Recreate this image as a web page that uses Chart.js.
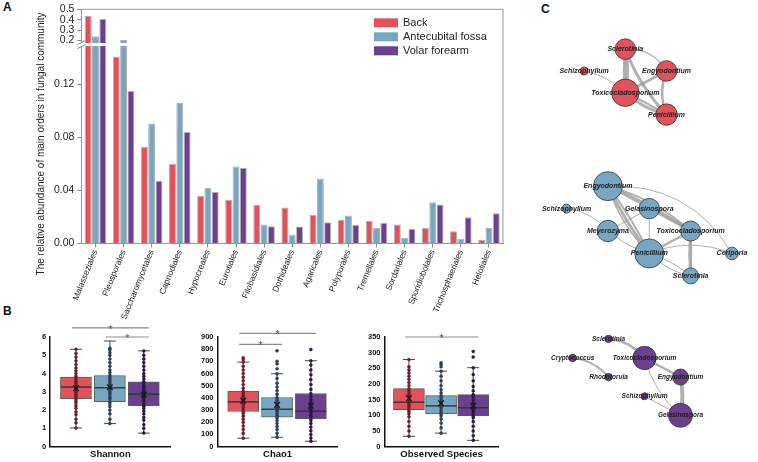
<!DOCTYPE html>
<html>
<head>
<meta charset="utf-8">
<script src="https://cdn.jsdelivr.net/npm/chart.js@4.4.1/dist/chart.umd.min.js"></script>
<style>
body{margin:0;background:#fff;width:758px;height:462px;overflow:hidden;position:relative;font-family:"Liberation Sans",Arial,sans-serif}
canvas{position:absolute}
.tag{position:absolute;font-weight:bold;font-size:12px;color:#111}
</style>
</head>
<body>
<div class="tag" style="left:3px;top:0px">A</div>
<div class="tag" style="left:3px;top:304px">B</div>
<div class="tag" style="left:541px;top:2px">C</div>
<canvas id="barChart" width="510" height="322" style="left:0;top:0"></canvas>
<canvas id="shannonChart" width="143" height="146" style="left:33px;top:316px"></canvas>
<canvas id="chaoChart" width="151" height="146" style="left:192px;top:316px"></canvas>
<canvas id="obsChart" width="146" height="146" style="left:358px;top:316px"></canvas>
<canvas id="net1" width="253" height="150" style="left:505px;top:0"></canvas>
<canvas id="net2" width="253" height="160" style="left:505px;top:150px"></canvas>
<canvas id="net3" width="253" height="152" style="left:505px;top:310px"></canvas>
<script>
/* panel A: main orders */
var orders = ['Malasseziales','Pleosporales','Saccharomycetales','Capnodiales','Hypocreales','Eurotiales','Filobasidiales','Dothideales','Agaricales','Polyporales','Tremellales','Sordariales','Sporidiobolales','Trichosphaeriales','Helotiales'];
var back        = [0.435,0.141,0.073,0.060,0.036,0.033,0.029,0.027,0.0215,0.0178,0.017,0.0143,0.0116,0.0091,0.0025];
var antecubital = [0.240,0.205,0.0905,0.106,0.042,0.058,0.0143,0.0067,0.049,0.021,0.0116,0.0042,0.031,0.0035,0.0116];
var volar       = [0.410,0.115,0.047,0.084,0.0387,0.057,0.013,0.0128,0.016,0.0138,0.0156,0.0111,0.0294,0.0198,0.0227];
var lowerTicks = [0, 0.04, 0.08, 0.12];
var upperTicks = [0.2, 0.3, 0.4, 0.5];
var breakLow = 0.15;
var breakHigh = 0.16;

var sites = ['Back', 'Antecubital fossa', 'Volar forearm'];
var siteColors = ['#e0535d', '#78a6c2', '#6b408e'];
var dotColors = ['#6e1d28', '#2b3f52', '#2c1544'];

/* panel B: diversity boxes (Back, Antecubital fossa, Volar forearm) */
var shannonQ1 = [2.63, 2.46, 2.24];
var shannonMedian = [3.26, 3.22, 2.87];
var shannonQ3 = [3.80, 3.89, 3.54];
var shannonLow = [1.02, 1.26, 0.74];
var shannonHigh = [5.33, 5.78, 5.24];
var shannonMean = [3.20, 3.25, 2.85];
var shannonBack = [1.02,1.3,1.5,1.75,1.9,2.1,2.25,2.4,2.5,2.6,2.7,2.8,2.9,3.0,3.05,3.1,3.2,3.25,3.3,3.4,3.5,3.55,3.65,3.75,3.85,4.0,4.15,4.3,4.5,4.7,4.9,5.1,5.33];
var shannonAnte = [1.26,1.5,1.8,2.0,2.2,2.35,2.45,2.6,2.7,2.85,2.95,3.05,3.15,3.22,3.3,3.4,3.5,3.6,3.7,3.8,3.9,4.05,4.2,4.4,4.6,4.8,5.0,5.15,5.3,5.39];
var shannonVolar = [0.74,1.0,1.2,1.45,1.6,1.8,1.95,2.1,2.2,2.3,2.4,2.5,2.6,2.7,2.8,2.87,2.95,3.05,3.15,3.25,3.35,3.45,3.55,3.7,3.85,4.0,4.2,4.4,4.6,4.8,5.0,5.24];

var chaoQ1 = [288, 242, 230];
var chaoMedian = [367, 307, 291];
var chaoQ3 = [455, 403, 436];
var chaoLow = [69, 77, 44];
var chaoHigh = [694, 598, 705];
var chaoMean = [377, 343, 335];
var chaoBack = [69,110,140,170,200,225,250,270,285,300,320,340,355,367,380,395,410,425,440,455,480,510,540,570,600,630,660,694,715,730];
var chaoAnte = [77,110,140,165,190,215,235,250,265,280,295,307,320,335,350,365,380,403,430,460,490,520,560,598,640,680,700,787];
var chaoVolar = [44,70,100,130,160,190,215,230,250,265,280,291,305,320,340,360,385,410,436,470,510,550,590,630,670,705,798];

var obsQ1 = [118, 104, 98];
var obsMedian = [142, 130, 124];
var obsQ3 = [185, 163, 166];
var obsLow = [33, 43, 20];
var obsHigh = [278, 241, 252];
var obsMean = [155, 138, 130];
var obsBack = [33,50,65,80,95,105,112,118,125,132,138,142,148,155,162,170,178,185,195,205,215,225,235,245,255,278];
var obsAnte = [43,60,75,88,98,104,110,118,125,130,136,142,150,157,163,172,182,195,210,225,241,255,262,268];
var obsVolar = [20,35,50,65,80,92,98,105,112,118,124,132,140,150,160,166,178,192,210,230,252,286,304];

/* significance: [group a, group b, bracket height in axis units] */
var shannonSig = [[0, 2, 6.5], [1, 2, 6.0]];
var chaoSig = [[0, 2, 930], [0, 1, 840]];
var obsSig = [[0, 2, 350]];

/* panel C: co-occurrence networks, nodes on layout grid */
var net1Names = ['Sclerotinia','Schizophyllum','Engyodontium','Toxicocladosporium','Penicillium'];
var net1X = [1, 0, 2, 1, 2];
var net1Y = [0, 1, 1, 2, 3];
var net1Size = [10.3, 4, 10.3, 13.7, 10.7];
var net1Edges = [[0,3,4,-0.08],[0,3,2.5,0.06],[0,2,1.2,-0.3],[1,3,1,-0.15],[3,2,3,0],[3,4,3,0.12],[3,4,2,-0.03],[0,4,3,0.1],[2,4,2.5,0.2]];

var net2Names = ['Engyodontium','Schizophyllum','Gelasinospora','Meyerozyma','Toxicocladosporium','Penicillium','Ceriporia','Sclerotinia'];
var net2X = [1, 0, 2, 1, 3, 2, 4, 3];
var net2Y = [0, 1, 1, 2, 2, 3, 3, 4];
var net2Size = [14.5, 4.5, 10.2, 10.7, 10, 14.5, 6.3, 8];
var net2Edges = [[0,4,3,-0.05],[0,4,2,-0.12],[0,5,3,0.05],[0,5,2,-0.05],[0,5,1.5,0.12],[0,2,1.5,0],[0,6,1,-0.3],[1,3,1,-0.2],[3,2,1,0],[3,5,1,0.1],[2,5,1,0],[2,4,2,0],[4,5,2.5,0],[4,7,3,0.04],[4,7,1.5,-0.04],[5,6,1,-0.2],[5,7,1,0.15],[5,7,1,-0.1]];

var net3Names = ['Sclerotinia','Cryptococcus','Toxicocladosporium','Rhodotorula','Engyodontium','Schizophyllum','Gelasinospora'];
var net3X = [1, 0, 2, 1, 3, 2, 3];
var net3Y = [0, 1, 1, 2, 2, 3, 4];
var net3Size = [3.7, 3.7, 11.7, 3.7, 8, 3.5, 12];
var net3Edges = [[0,2,2.5,-0.2],[1,3,2,-0.2],[2,4,2.5,0],[4,6,4,-0.1],[2,6,1,0.15],[5,6,1,0]];

Chart.defaults.font.family = '"Liberation Sans", Arial, sans-serif';
Chart.defaults.color = '#222';
Chart.defaults.animation = false;
Chart.defaults.responsive = false;
Chart.defaults.plugins.legend.display = false;
Chart.defaults.plugins.tooltip.enabled = false;

// ---------- A: bar chart with broken axis ----------
var barSets = [];
[back, antecubital, volar].forEach(function(vals, i) {
    barSets.push({
        label: sites[i],
        data: vals.map(function(v) { return Math.min(v, breakLow); }),
        yAxisID: 'y', stack: 'site' + i,
        backgroundColor: siteColors[i], borderColor: 'rgba(80,80,80,0.45)', borderWidth: 1
    });
    barSets.push({
        label: sites[i],
        data: vals.map(function(v) { return v > breakHigh ? [breakHigh, v] : null; }),
        yAxisID: 'y2', stack: 'site' + i,
        backgroundColor: siteColors[i], borderColor: 'rgba(80,80,80,0.45)', borderWidth: 1
    });
});

var frameAndLegend = {
    id: 'frameAndLegend',
    afterDraw: function(chart) {
        var ctx = chart.ctx, a = chart.chartArea;
        ctx.save();
        ctx.strokeStyle = '#999';
        ctx.lineWidth = 1;
        ctx.strokeRect(a.left, a.top, a.right - a.left, a.bottom - a.top);
        // axis break
        var yb = chart.scales.y.top;
        ctx.fillStyle = '#fff';
        ctx.fillRect(a.left - 5, yb - 1.5, a.right - a.left + 4, 3);
        ctx.strokeStyle = '#888';
        [-2, 2].forEach(function(d) {
            ctx.beginPath();
            ctx.moveTo(a.left - 4, yb + d + 2);
            ctx.lineTo(a.left + 4, yb + d - 2);
            ctx.stroke();
        });
        // legend
        ctx.font = '11px "Liberation Sans", Arial, sans-serif';
        ctx.textBaseline = 'middle';
        sites.forEach(function(s, i) {
            var x = a.right - 129, y = a.top + 9 + i * 14;
            ctx.fillStyle = siteColors[i];
            ctx.fillRect(x, y, 24, 9);
            ctx.fillStyle = '#222';
            ctx.fillText(s, x + 29, y + 5);
        });
        ctx.restore();
    }
};

new Chart(document.getElementById('barChart'), {
    type: 'bar',
    data: { labels: orders, datasets: barSets },
    options: {
        layout: { padding: { left: 35, right: 7, top: 0, bottom: 0 } },
        datasets: { bar: { categoryPercentage: 0.78, barPercentage: 0.95 } },
        scales: {
            x: {
                grid: { drawOnChartArea: false, offset: false, tickLength: 4, color: '#888' },
                border: { color: '#888' },
                ticks: { autoSkip: false, minRotation: 68, maxRotation: 68, font: { size: 8.5 }, color: '#222', padding: 1 }
            },
            y: {
                stack: 'abund', stackWeight: 203, stacked: false,
                min: 0, max: breakLow,
                afterBuildTicks: function(s) { s.ticks = lowerTicks.map(function(v) { return { value: v }; }); },
                ticks: { autoSkip: false, callback: function(v) { return v.toFixed(2); }, font: { size: 10.5 }, color: '#222', padding: 3 },
                grid: { drawOnChartArea: false, tickLength: 4, color: '#888' },
                border: { color: '#888' },
                title: { display: true, text: 'The relative abundance of main orders in fungal community', font: { size: 10 }, color: '#222', padding: { top: 0, bottom: 4 } }
            },
            y2: {
                stack: 'abund', stackWeight: 36, stacked: false,
                min: breakHigh, max: 0.5,
                afterBuildTicks: function(s) { s.ticks = upperTicks.map(function(v) { return { value: v }; }); },
                ticks: { autoSkip: false, callback: function(v) { return v.toFixed(1); }, font: { size: 10.5, lineHeight: 0.9 }, color: '#222', padding: 3 },
                grid: { drawOnChartArea: false, tickLength: 4, color: '#888' },
                border: { color: '#888' }
            }
        }
    },
    plugins: [frameAndLegend]
});

// ---------- B: box plots ----------
function boxParts(lo, hi, med, sigs) {
    return {
        id: 'boxParts',
        beforeDatasetsDraw: function(chart) {
            var ctx = chart.ctx, y = chart.scales.y, bars = chart.getDatasetMeta(0).data;
            ctx.save();
            ctx.strokeStyle = '#444';
            ctx.lineWidth = 1;
            bars.forEach(function(b, i) {
                ctx.beginPath();
                ctx.moveTo(b.x, y.getPixelForValue(lo[i]));
                ctx.lineTo(b.x, y.getPixelForValue(hi[i]));
                [lo[i], hi[i]].forEach(function(v) {
                    var p = y.getPixelForValue(v);
                    ctx.moveTo(b.x - 6, p);
                    ctx.lineTo(b.x + 6, p);
                });
                ctx.stroke();
            });
            ctx.restore();
        },
        afterDatasetDraw: function(chart, args) {
            if (args.index !== 0) return;
            var ctx = chart.ctx, y = chart.scales.y, bars = chart.getDatasetMeta(0).data;
            ctx.save();
            ctx.strokeStyle = '#333';
            ctx.lineWidth = 1.4;
            bars.forEach(function(b, i) {
                var p = y.getPixelForValue(med[i]);
                ctx.beginPath();
                ctx.moveTo(b.x - b.width / 2, p);
                ctx.lineTo(b.x + b.width / 2, p);
                ctx.stroke();
            });
            ctx.restore();
        },
        afterDraw: function(chart) {
            var ctx = chart.ctx, y = chart.scales.y, bars = chart.getDatasetMeta(0).data;
            ctx.save();
            ctx.strokeStyle = '#8a8a8a';
            ctx.fillStyle = '#555';
            ctx.lineWidth = 1.2;
            ctx.font = '11px "Liberation Sans", Arial, sans-serif';
            ctx.textAlign = 'center';
            ctx.textBaseline = 'alphabetic';
            sigs.forEach(function(s) {
                var x0 = bars[s[0]].x - 4, x1 = bars[s[1]].x + 5, p = y.getPixelForValue(s[2]);
                ctx.beginPath();
                ctx.moveTo(x0, p);
                ctx.lineTo(x1, p);
                ctx.stroke();
                ctx.fillText('*', (x0 + x1) / 2, p + 5);
            });
            ctx.restore();
        }
    };
}

function boxChart(id, title, q1, med, q3, lo, hi, mean, dots, yMax, yStep, sigs, padLeft) {
    var xs = [1, 2, 3];
    var sets = [{
        type: 'bar',
        data: xs.map(function(x, i) { return { x: x, y: [q1[i], q3[i]] }; }),
        backgroundColor: siteColors, borderColor: '#5a5a5a', borderWidth: 1, borderSkipped: false,
        barThickness: 31, order: 3
    }];
    dots.forEach(function(vals, i) {
        sets.push({
            type: 'scatter',
            data: vals.map(function(v) { return { x: xs[i], y: v }; }),
            pointRadius: 1.5, pointBackgroundColor: dotColors[i], pointBorderColor: dotColors[i], pointBorderWidth: 0.5, order: 2
        });
    });
    sets.push({
        type: 'scatter',
        data: mean.map(function(m, i) { return { x: xs[i], y: m }; }),
        pointStyle: 'crossRot', pointRadius: 4, pointBorderColor: '#1a1a1a', pointBorderWidth: 1.4, order: 1
    });
    new Chart(document.getElementById(id), {
        type: 'bar',
        data: { datasets: sets },
        options: {
            layout: { padding: { left: padLeft, right: 1, top: 21, bottom: 0 } },
            scales: {
                x: {
                    type: 'linear', min: 0.24, max: 3.79, offset: false,
                    ticks: { display: false },
                    grid: { display: false, drawTicks: false, tickLength: 0 },
                    border: { color: '#111', width: 1.5 },
                    title: { display: true, text: title, font: { size: 9.5, weight: 'bold' }, color: '#111', padding: { top: 2, bottom: 2 } }
                },
                y: {
                    min: 0, max: yMax,
                    ticks: { stepSize: yStep, autoSkip: false, font: { size: 7.5, weight: 'bold' }, color: '#111', padding: 4 },
                    grid: { display: false, drawTicks: false, tickLength: 0 },
                    border: { color: '#111', width: 1.5 }
                }
            }
        },
        plugins: [boxParts(lo, hi, med, sigs)]
    });
}

boxChart('shannonChart', 'Shannon', shannonQ1, shannonMedian, shannonQ3, shannonLow, shannonHigh, shannonMean,
    [shannonBack, shannonAnte, shannonVolar], 6, 1, shannonSig, 5);
boxChart('chaoChart', 'Chao1', chaoQ1, chaoMedian, chaoQ3, chaoLow, chaoHigh, chaoMean,
    [chaoBack, chaoAnte, chaoVolar], 900, 100, chaoSig, 5);
boxChart('obsChart', 'Observed Species', obsQ1, obsMedian, obsQ3, obsLow, obsHigh, obsMean,
    [obsBack, obsAnte, obsVolar], 350, 50, obsSig, 6);

// ---------- C: networks ----------
function netChart(id, names, nx, ny, size, edges, color, xRange, yRange, fontSize) {
    new Chart(document.getElementById(id), {
        type: 'bubble',
        data: {
            datasets: [{
                data: names.map(function(n, i) { return { x: nx[i], y: ny[i], r: size[i] }; }),
                backgroundColor: color, borderColor: '#333', borderWidth: 0.8, clip: false
            }]
        },
        options: {
            layout: { padding: 0 },
            scales: {
                x: { display: false, min: xRange[0], max: xRange[1] },
                y: { display: false, min: yRange[0], max: yRange[1], reverse: true }
            }
        },
        plugins: [{
            id: 'netEdges',
            beforeDatasetsDraw: function(chart) {
                var ctx = chart.ctx, pts = chart.getDatasetMeta(0).data;
                ctx.save();
                ctx.strokeStyle = 'rgba(150,150,150,0.75)';
                edges.forEach(function(e) {
                    var a = pts[e[0]], b = pts[e[1]];
                    var dx = b.x - a.x, dy = b.y - a.y;
                    var cx = (a.x + b.x) / 2 - dy * e[3], cy = (a.y + b.y) / 2 + dx * e[3];
                    ctx.lineWidth = e[2];
                    ctx.beginPath();
                    ctx.moveTo(a.x, a.y);
                    ctx.quadraticCurveTo(cx, cy, b.x, b.y);
                    ctx.stroke();
                });
                ctx.restore();
            },
            afterDatasetsDraw: function(chart) {
                var ctx = chart.ctx, pts = chart.getDatasetMeta(0).data;
                ctx.save();
                ctx.font = 'italic bold ' + fontSize + 'px "Liberation Sans", Arial, sans-serif';
                ctx.textAlign = 'center';
                ctx.textBaseline = 'middle';
                ctx.fillStyle = '#1c1c1c';
                names.forEach(function(n, i) { ctx.fillText(n, pts[i].x, pts[i].y); });
                ctx.restore();
            }
        }]
    });
}

netChart('net1', net1Names, net1X, net1Y, net1Size, net1Edges, '#e0535d', [-1.57, 3.87], [-1.59, 3.96], 7);
netChart('net2', net2Names, net2X, net2Y, net2Size, net2Edges, '#78a6c2', [-1.12, 4.26], [-0.93, 4.84], 7);
netChart('net3', net3Names, net3X, net3Y, net3Size, net3Edges, '#6b408e', [-1.525, 4.8], [-0.84, 5.77], 6.5);
</script>
</body>
</html>
